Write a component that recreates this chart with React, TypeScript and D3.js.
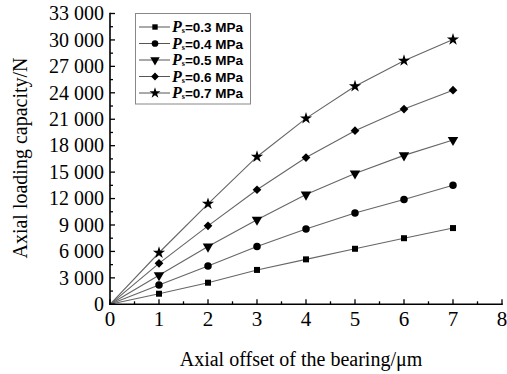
import * as d3 from 'd3';

// Axial offset (um) and loading capacity (N) per supply pressure
const offsets = [0, 1, 2, 3, 4, 5, 6, 7];
const pressures = ['0.3', '0.4', '0.5', '0.6', '0.7'];
const load03 = [0, 1200, 2450, 3900, 5100, 6300, 7500, 8650];
const load04 = [0, 2200, 4350, 6550, 8550, 10350, 11900, 13500];
const load05 = [0, 3300, 6550, 9600, 12450, 14850, 16900, 18650];
const load06 = [0, 4650, 8900, 13000, 16650, 19700, 22150, 24300];
const load07 = [0, 5850, 11400, 16750, 21100, 24750, 27650, 30050];
const xTicks = [0, 1, 2, 3, 4, 5, 6, 7, 8];
const yTicks = [0, 3000, 6000, 9000, 12000, 15000, 18000, 21000, 24000, 27000, 30000, 33000];

const series = [load03, load04, load05, load06, load07];

const W = 507;
const H = 374;
const margin = { left: 110, right: 5, top: 13.5, bottom: 69.7 };

const x = d3.scaleLinear().domain([0, 8]).range([margin.left, 502]);
const y = d3.scaleLinear().domain([0, 33000]).range([H - margin.bottom, margin.top]);

const fmt = (v: number) => d3.format(',')(v).replace(/,/g, ' ');

// marker shapes: square, circle, triangle down, diamond, star
const markers = [
  { type: d3.symbolSquare, size: 36, rot: 0 },
  { type: d3.symbolCircle, size: 44, rot: 0 },
  { type: d3.symbolTriangle, size: 48, rot: 180 },
  { type: d3.symbolSquare, size: 38, rot: 45 },
  { type: d3.symbolStar, size: 46, rot: 0 },
];

const serif = '"Liberation Serif", "Times New Roman", serif';
const sans = '"Liberation Sans", Arial, sans-serif';

export default function App() {
  const line = d3
    .line<number>()
    .x((_, i) => x(offsets[i]))
    .y((d) => y(d));

  const x0 = x(0);
  const y0 = y(0);
  const minorX = d3.range(0.5, 8, 1);
  const minorY = d3.range(1500, 33000, 3000);

  return (
    <svg
      width={W}
      height={H}
      style={{ position: 'absolute', left: 0, top: 0, background: '#fff' }}
    >
      {/* series lines */}
      {series.map((s, i) => (
        <path key={'l' + i} d={line(s) || ''} fill="none" stroke="#666" strokeWidth={1.1} />
      ))}
      {/* markers */}
      {series.map((s, i) =>
        s.map((v, j) =>
          j === 0 ? null : (
            <path
              key={'m' + i + '-' + j}
              d={d3.symbol(markers[i].type, markers[i].size)() || ''}
              transform={`translate(${x(offsets[j])},${y(v)}) rotate(${markers[i].rot})`}
              fill="#000"
            />
          )
        )
      )}

      {/* axes */}
      <g stroke="#000" strokeWidth={1.6}>
        <line x1={x0} x2={x0} y1={y(33000) - 0.8} y2={y0 + 0.8} />
        <line x1={x0 - 0.8} x2={x(8) + 0.8} y1={y0} y2={y0} />
      </g>
      <g stroke="#000" strokeWidth={1.3}>
        {yTicks.map((t) => (
          <line key={'yt' + t} x1={x0} x2={x0 + 5} y1={y(t)} y2={y(t)} />
        ))}
        {minorY.map((t) => (
          <line key={'ym' + t} x1={x0} x2={x0 + 3} y1={y(t)} y2={y(t)} />
        ))}
        {xTicks.map((t) => (
          <line key={'xt' + t} x1={x(t)} x2={x(t)} y1={y0} y2={y0 - 5} />
        ))}
        {minorX.map((t) => (
          <line key={'xm' + t} x1={x(t)} x2={x(t)} y1={y0} y2={y0 - 3} />
        ))}
      </g>

      {/* tick labels */}
      <g fontFamily={serif} fontSize={20} fill="#000">
        {yTicks.map((t) => (
          <text key={'yl' + t} x={x0 - 6} y={y(t)} dy="0.34em" textAnchor="end">
            {fmt(t)}
          </text>
        ))}
        {xTicks.map((t) => (
          <text key={'xl' + t} x={x(t)} y={y0 + 22} textAnchor="middle" fontSize={21}>
            {t}
          </text>
        ))}
      </g>

      {/* axis titles */}
      <text
        x={(172 + 430) / 2}
        y={366}
        textAnchor="middle"
        fontFamily={serif}
        fontSize={20}
      >
        Axial offset of the bearing/μm
      </text>
      <text
        transform={`translate(27,158) rotate(-90)`}
        textAnchor="middle"
        fontFamily={serif}
        fontSize={20}
      >
        Axial loading capacity/N
      </text>

      {/* legend */}
      <rect x={135.5} y={13.5} width={115} height={90.5} fill="#fff" stroke="#888" strokeWidth={1} />
      {pressures.map((p, i) => {
        const ly = 27 + i * 16.5;
        return (
          <g key={'lg' + i}>
            <line x1={139} x2={170} y1={ly} y2={ly} stroke="#555" strokeWidth={1} />
            <path
              d={d3.symbol(markers[i].type, markers[i].size * 0.8)() || ''}
              transform={`translate(155,${ly}) rotate(${markers[i].rot})`}
              fill="#000"
            />
            <text x={172} y={ly + 5} fontFamily={serif} fontSize={16} fontWeight="bold" fontStyle="italic">
              P
              <tspan fontSize={8} fontStyle="normal" dy={1}>
                s
              </tspan>
              <tspan fontFamily={sans} fontSize={13.5} fontStyle="normal" dy={-1}>
                ={p} MPa
              </tspan>
            </text>
          </g>
        );
      })}
    </svg>
  );
}
